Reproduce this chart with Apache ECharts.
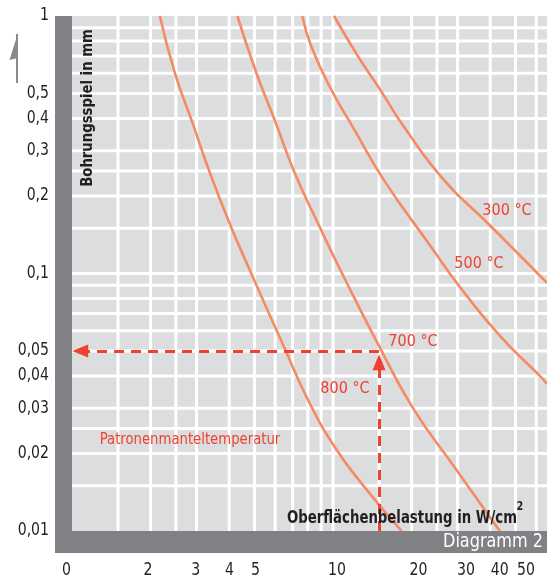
<!DOCTYPE html>
<html><head><meta charset="utf-8">
<script src="https://cdn.jsdelivr.net/npm/echarts@6/dist/echarts.min.js"></script>
<style>html,body{margin:0;padding:0;background:#fff}#c{width:547px;height:583px}</style>
</head><body><div id="c"></div>
<script>
// ---- data ----
const xTickValues = [1, 2, 3, 4, 5, 10, 20, 30, 40, 50];
const xTickLabels = ['0', '2', '3', '4', '5', '10', '20', '30', '40', '50'];
const yTickValues = [1, 0.5, 0.4, 0.3, 0.2, 0.1, 0.05, 0.04, 0.03, 0.02, 0.01];
const yTickLabels = ['1', '0,5', '0,4', '0,3', '0,2', '0,1', '0,05', '0,04', '0,03', '0,02', '0,01'];
const xGridValues = [1.5, 2, 2.5, 3, 4, 5, 6, 7, 8, 9, 10, 15, 20, 25, 30, 40, 50, 60];
const yGridValues = [0.015, 0.02, 0.025, 0.03, 0.04, 0.05, 0.06, 0.07, 0.08, 0.09, 0.1, 0.15, 0.2, 0.25, 0.3, 0.4, 0.5, 0.6, 0.7, 0.8, 0.9];
const curveNames = ['800 °C', '700 °C', '500 °C', '300 °C'];
const curve800 = [[2.17, 1], [2.48, 0.599], [2.87, 0.394], [3.38, 0.245], [4.02, 0.156], [4.80, 0.103], [6.53, 0.0511], [8.03, 0.0322], [10.15, 0.0212], [13.2, 0.0148], [18.3, 0.01]];
const curve700 = [[4.30, 1], [5.09, 0.599], [5.98, 0.394], [7.14, 0.245], [8.77, 0.156], [10.6, 0.1046], [15.3, 0.0503], [20.5, 0.0294], [29.2, 0.0177], [43.5, 0.01]];
const curve500 = [[7.62, 1], [8.27, 0.758], [9.86, 0.516], [11.97, 0.367], [15.66, 0.2305], [23.8, 0.1265], [30.46, 0.0892], [44.1, 0.0565], [62.75, 0.0395], [66, 0.0372]];
const curve300 = [[10.08, 1], [12.51, 0.693], [15.18, 0.516], [18.6, 0.3737], [26.6, 0.2305], [39.23, 0.1564], [51.1, 0.1196], [66, 0.092]];
const readLoad = 15;      // W/cm2 example reading
const readGap = 0.05;     // mm result

// ---- styles ----
const FONT = "'DejaVu Sans Condensed','Liberation Sans Narrow',sans-serif";
const CURVE_COLOR = '#f58b64';
const RED = '#ee4230';
const TEXT = '#231f20';

const chart = echarts.init(document.getElementById('c'), null, {renderer: 'canvas'});

function gridLines(values, vertical) {
  return {
    type: 'custom', xAxisIndex: 0, yAxisIndex: 0, z: 1, silent: true, clip: true,
    data: values.map(v => vertical ? [v, 0.1] : [2, v]),
    renderItem: (params, api) => {
      const v = vertical ? api.value(0) : api.value(1);
      const a = vertical ? api.coord([v, 0.01]) : api.coord([1, v]);
      const b = vertical ? api.coord([v, 1]) : api.coord([66, v]);
      return {type: 'line', shape: {x1: a[0], y1: a[1], x2: b[0], y2: b[1]},
        style: {stroke: '#ffffff', lineWidth: 3}};
    }
  };
}

function tickLabels(values, labels, isX) {
  const idx = isX ? 1 : 0;
  return {
    type: 'custom', xAxisIndex: idx, yAxisIndex: idx, z: 6, silent: true, clip: false,
    data: values.map((v, i) => isX ? [v, 0.01, i] : [1, v, i]),
    renderItem: (params, api) => {
      const p = api.coord([api.value(0), api.value(1)]);
      const i = api.value(2);
      return {type: 'text', x: isX ? p[0] : p[0] - 23, y: isX ? p[1] + 40 : p[1], scaleX: 0.92,
        style: {text: labels[i], align: isX ? 'center' : 'right', verticalAlign: 'middle',
          font: '17px ' + FONT, fill: TEXT}};
    }
  };
}

function curve(name, data) {
  return {name, type: 'line', xAxisIndex: 0, yAxisIndex: 0, data, smooth: 0.5,
    showSymbol: false, symbol: 'none', z: 3, silent: true,
    lineStyle: {color: CURVE_COLOR, width: 2.6}};
}

const hiddenAxis = {axisLine: {show: false}, axisTick: {show: false}, axisLabel: {show: false}, splitLine: {show: false}};

const c700 = curve(curveNames[1], curve700);
c700.markLine = {
  silent: true, symbol: ['none', 'triangle'], symbolSize: [13, 16],
  lineStyle: {color: RED, width: 3, type: [10, 7]}, label: {show: false},
  data: [
    [{coord: [readLoad, readGap]}, {coord: [1.075, readGap]}],
    [{coord: [readLoad, 0.01]}, {coord: [readLoad, 0.0452]}]
  ]
};

function txt(x, y, text, font, fill, align, sx, extra) {
  return Object.assign({type: 'text', x, y, z: 11, scaleX: sx,
    style: {text, align, verticalAlign: 'middle', font: font + ' ' + FONT, fill}}, extra || {});
}

chart.setOption({
  animation: false,
  grid: [
    {left: 72, top: 16, right: 0, bottom: 52, show: true, backgroundColor: '#dcdddf', borderWidth: 0},
    {left: 66.6, top: 16, width: 480.4, bottom: 52, show: false}
  ],
  xAxis: [
    Object.assign({type: 'log', logBase: 10, min: 1, max: 66, gridIndex: 0}, hiddenAxis),
    Object.assign({type: 'log', logBase: 10, min: 1, max: 59.8, gridIndex: 1}, hiddenAxis)
  ],
  yAxis: [
    Object.assign({type: 'log', logBase: 10, min: 0.01, max: 1, gridIndex: 0}, hiddenAxis),
    Object.assign({type: 'log', logBase: 10, min: 0.01, max: 1, gridIndex: 1}, hiddenAxis)
  ],
  series: [
    gridLines(xGridValues, true),
    gridLines(yGridValues, false),
    curve(curveNames[0], curve800),
    c700,
    curve(curveNames[2], curve500),
    curve(curveNames[3], curve300),
    tickLabels(yTickValues, yTickLabels, false),
    tickLabels(xTickValues, xTickLabels, true)
  ],
  graphic: [
    {type: 'rect', shape: {x: 55, y: 16, width: 17, height: 537}, style: {fill: '#808184'}, z: 10},
    {type: 'rect', shape: {x: 55, y: 531, width: 492, height: 22}, style: {fill: '#808184'}, z: 10},
    {type: 'rect', shape: {x: 16, y: 34, width: 2, height: 49}, style: {fill: '#8a8a8c'}, z: 10},
    {type: 'polygon', shape: {points: [[18, 33], [9.5, 60], [18, 58]]}, style: {fill: '#8a8a8c'}, z: 10},
    txt(543, 542, 'Diagramm 2', '19px', '#ffffff', 'right', 0.94),
    txt(88, 108, 'Bohrungsspiel in mm', 'bold 16px', TEXT, 'center', 0.92, {rotation: Math.PI / 2}),
    txt(517, 518, 'Oberflächenbelastung in W/cm', 'bold 18px', TEXT, 'right', 0.82),
    txt(520, 507, '2', 'bold 12px', TEXT, 'center', 0.9),
    txt(507, 211, curveNames[3], '16px', RED, 'center', 1),
    txt(479, 264, curveNames[2], '16px', RED, 'center', 1),
    txt(413, 342, curveNames[1], '16px', RED, 'center', 1),
    txt(345, 389, curveNames[0], '16px', RED, 'center', 1),
    txt(190, 440, 'Patronenmanteltemperatur', '16px', RED, 'center', 0.92)
  ]
});
</script>
</body></html>
